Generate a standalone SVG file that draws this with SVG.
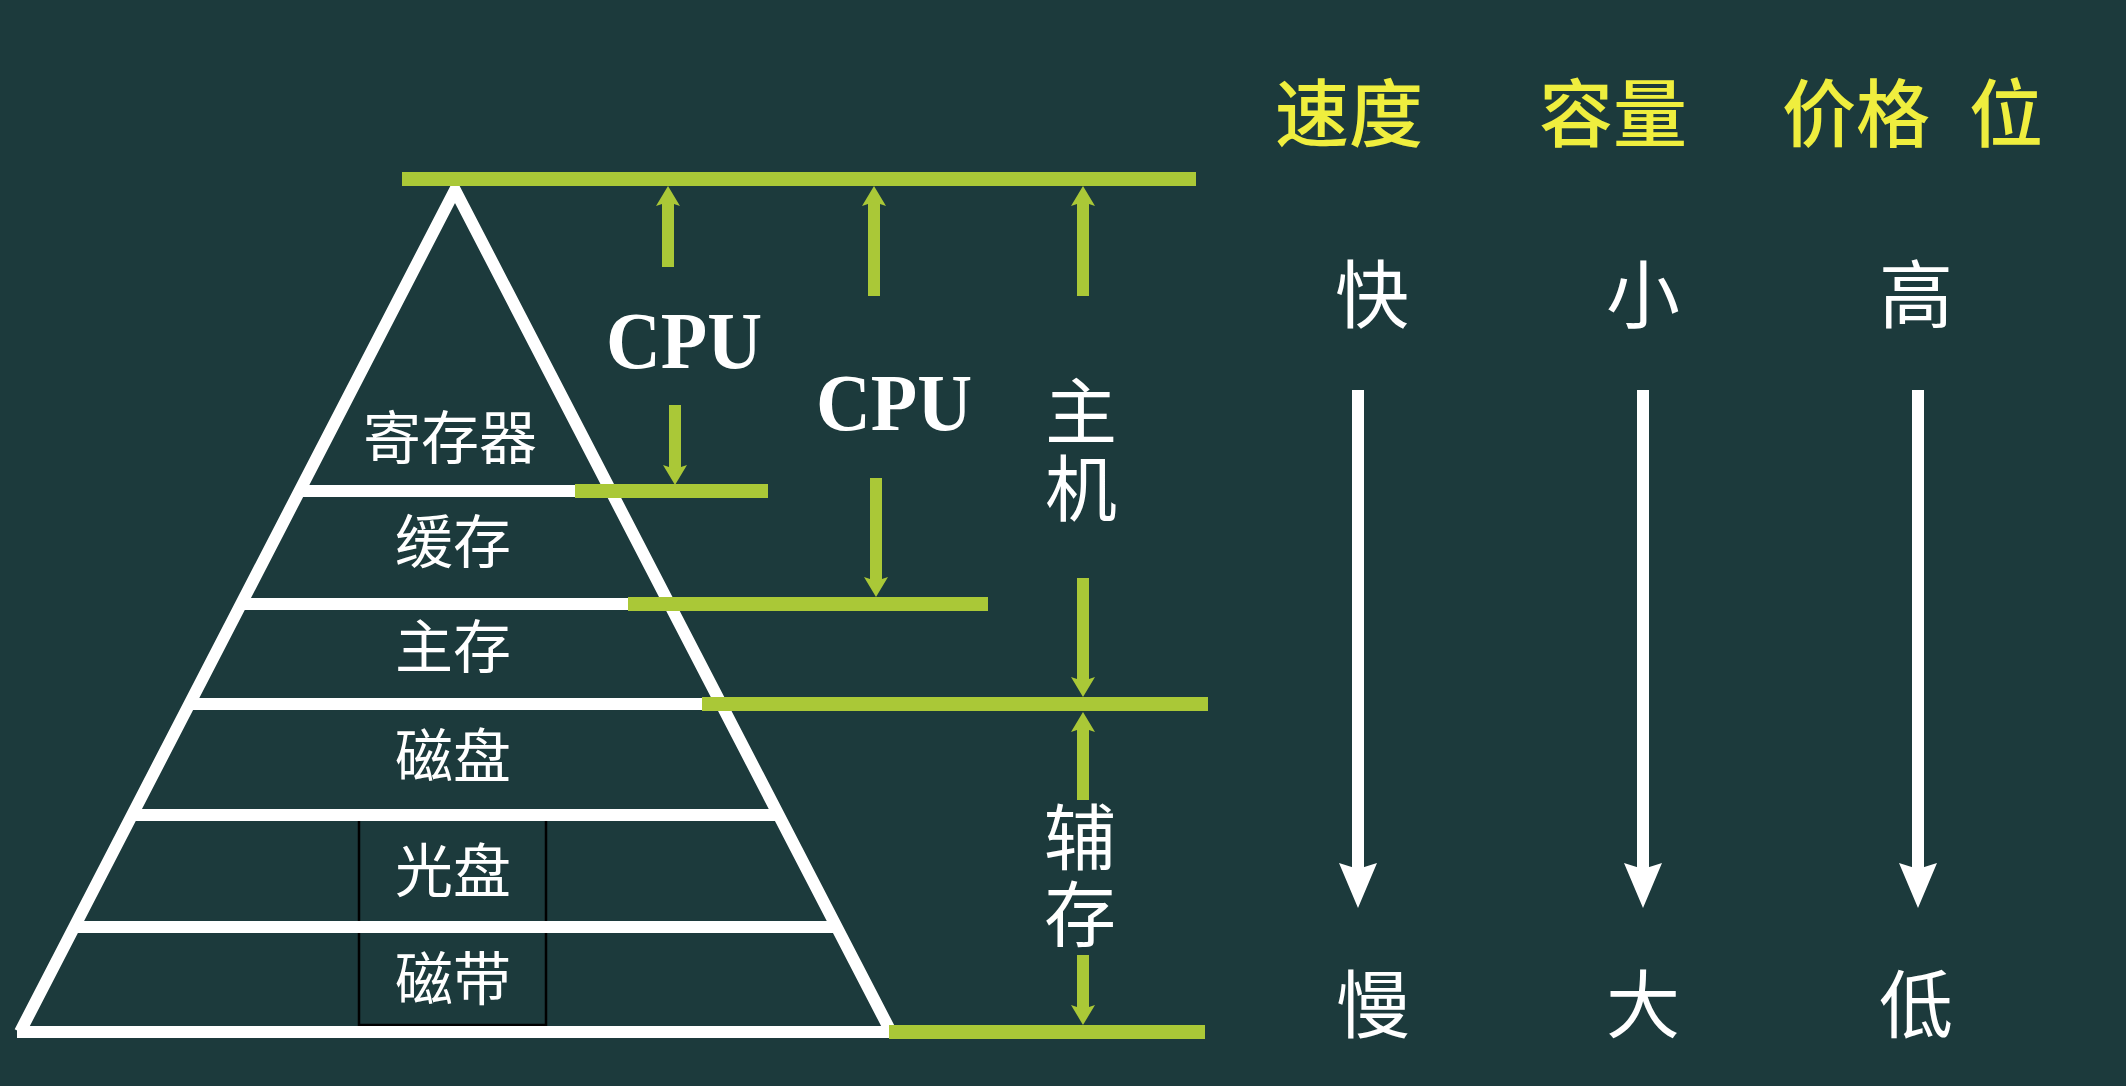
<svg xmlns="http://www.w3.org/2000/svg" width="2126" height="1086" viewBox="0 0 2126 1086">
<style>
.wl{stroke:#ffffff;stroke-width:12;fill:none}
.gl{stroke:#aac837;stroke-width:14;fill:none}
.ga{stroke:#aac837;stroke-width:12;fill:none;marker-end:url(#gh)}
.wa{stroke:#ffffff;stroke-width:12;fill:none;marker-end:url(#wh)}
.cj{font-family:"Noto Sans CJK SC","Noto Sans CJK JP",sans-serif;fill:#ffffff;text-anchor:middle;dominant-baseline:central}
.lab{font-size:58px}
.big{font-size:74px}
.vt{font-family:"Noto Sans CJK SC","Noto Sans CJK JP",sans-serif;fill:#ffffff;font-size:72px;text-anchor:middle;writing-mode:vertical-rl;text-orientation:upright;letter-spacing:5px}
.hd{font-size:74px;fill:#efee3e;font-weight:500}
.cpu{font-family:"Liberation Serif",serif;font-weight:bold;font-size:80px;fill:#ffffff;text-anchor:middle}
</style>
<defs>
<marker id="gh" markerUnits="userSpaceOnUse" markerWidth="24" markerHeight="30" viewBox="0 -15 24 30" refX="4" refY="0" orient="auto"><path d="M0,-12 L20,0 L0,12 L4,0 Z" fill="#aac837"/></marker>
<marker id="wh" markerUnits="userSpaceOnUse" markerWidth="48" markerHeight="44" viewBox="0 -22 48 44" refX="6" refY="0" orient="auto"><path d="M0,-19 L45,0 L0,19 L6,0 Z" fill="#ffffff"/></marker>
</defs>
<rect x="0" y="0" width="2126" height="1086" fill="#1c3a3c"/>

<g id="pyramid">
<rect x="359" y="814" width="187" height="211" fill="none" stroke="#000000" stroke-width="2.5"/>
<polyline class="wl" points="20,1032 455,190 891,1032" stroke-linejoin="miter"/>
<line class="wl" x1="298" y1="491" x2="575" y2="491"/>
<line class="wl" x1="240" y1="604" x2="628" y2="604"/>
<line class="wl" x1="188" y1="704" x2="702" y2="704"/>
<line class="wl" x1="131" y1="815" x2="779" y2="815"/>
<line class="wl" x1="73" y1="927" x2="837" y2="927"/>
<line class="wl" x1="17" y1="1032" x2="891" y2="1032"/>
</g>

<g id="levels">
<line class="gl" x1="402" y1="179" x2="1196" y2="179"/>
<line class="gl" x1="575" y1="491" x2="768" y2="491"/>
<line class="gl" x1="628" y1="604" x2="988" y2="604"/>
<line class="gl" x1="702" y1="704" x2="1208" y2="704"/>
<line class="gl" x1="889" y1="1032" x2="1205" y2="1032"/>
</g>

<g id="node-register"><text class="cj lab" x="450" y="434">寄存器</text></g>
<g id="node-cache"><text class="cj lab" x="453" y="538">缓存</text></g>
<g id="node-main"><text class="cj lab" x="453" y="643">主存</text></g>
<g id="node-disk"><text class="cj lab" x="453" y="752">磁盘</text></g>
<g id="node-optical"><text class="cj lab" x="453" y="867">光盘</text></g>
<g id="node-tape"><text class="cj lab" x="453" y="975">磁带</text></g>

<g id="label-cpu1"><text class="cpu" x="684" y="368" textLength="156" lengthAdjust="spacingAndGlyphs">CPU</text></g>
<g id="label-cpu2"><text class="cpu" x="894" y="430" textLength="156" lengthAdjust="spacingAndGlyphs">CPU</text></g>
<g id="label-host"><text class="vt" x="1081" y="452">主机</text></g>
<g id="label-aux"><text class="vt" x="1080" y="878">辅存</text></g>

<g id="connectors">
<line class="ga" x1="668" y1="267" x2="668" y2="202"/>
<line class="ga" x1="675" y1="405" x2="675" y2="469"/>
<line class="ga" x1="874" y1="296" x2="874" y2="202"/>
<line class="ga" x1="876" y1="478" x2="876" y2="581"/>
<line class="ga" x1="1083" y1="296" x2="1083" y2="202"/>
<line class="ga" x1="1083" y1="578" x2="1083" y2="681"/>
<line class="ga" x1="1083" y1="800" x2="1083" y2="728"/>
<line class="ga" x1="1083" y1="955" x2="1083" y2="1009"/>
<line class="wa" x1="1358" y1="390" x2="1358" y2="869"/>
<line class="wa" x1="1643" y1="390" x2="1643" y2="869"/>
<line class="wa" x1="1918" y1="390" x2="1918" y2="869"/>
</g>

<g id="header">
<text class="cj hd" x="1349" y="108">速度</text>
<text class="cj hd" x="1613" y="108">容量</text>
<text class="cj hd" x="1856" y="108">价格<tspan x="2006">位</tspan></text>
</g>

<g id="col-speed"><text class="cj big" x="1372" y="289">快</text><text class="cj big" x="1373" y="999">慢</text></g>
<g id="col-capacity"><text class="cj big" x="1643" y="289">小</text><text class="cj big" x="1643" y="999">大</text></g>
<g id="col-price"><text class="cj big" x="1916" y="289">高</text><text class="cj big" x="1916" y="999">低</text></g>
</svg>
